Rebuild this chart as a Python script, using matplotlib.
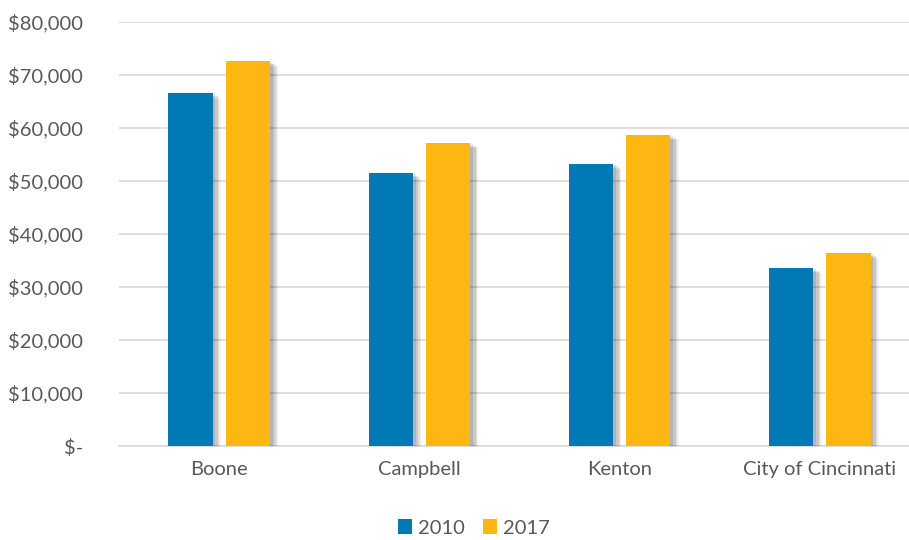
import matplotlib
matplotlib.use('Agg')
import matplotlib.pyplot as plt
import matplotlib.patheffects as pe
from matplotlib.patches import Patch
import numpy as np

categories = ['Boone', 'Campbell', 'Kenton', 'City of Cincinnati']
v2010 = [66600, 51500, 53300, 33600]
v2017 = [72600, 57200, 58700, 36400]
yticks = [0, 10000, 20000, 30000, 40000, 50000, 60000, 70000, 80000]
ytick_labels = ['$-', '$10,000', '$20,000', '$30,000', '$40,000',
                '$50,000', '$60,000', '$70,000', '$80,000']

blue = '#0079B5'
gold = '#FDB713'
text_color = '#595959'

plt.rcParams['font.family'] = ['Lato', 'DejaVu Sans']

fig = plt.figure(figsize=(9.09, 5.4), dpi=100)
ax = fig.add_axes([119 / 909, 1 - 446 / 540, 790 / 909, 424 / 540])

x = np.arange(len(categories))
w = 0.22
off = 0.143

# soft drop shadow, like the office chart style
shadow = [pe.SimplePatchShadow(offset=(6, -4), shadow_rgbFace='#000000', alpha=0.05),
          pe.SimplePatchShadow(offset=(5, -3), shadow_rgbFace='#000000', alpha=0.08),
          pe.SimplePatchShadow(offset=(4, -2), shadow_rgbFace='#000000', alpha=0.10),
          pe.SimplePatchShadow(offset=(2, -1), shadow_rgbFace='#000000', alpha=0.10),
          pe.Normal()]

b1 = ax.bar(x - off, v2010, width=w, color=blue, zorder=3)
b2 = ax.bar(x + off, v2017, width=w, color=gold, zorder=3)
for b in list(b1) + list(b2):
    b.set_path_effects(shadow)

ax.set_xlim(-0.5, 3.445)
ax.set_ylim(0, 80000)
ax.set_yticks(yticks)
ax.set_yticklabels(ytick_labels)
ax.set_xticks(x)
ax.set_xticklabels(categories)
ax.yaxis.grid(True, color='#d9d9d9', linewidth=1.2, zorder=0)
ax.set_axisbelow(True)
for s in ['top', 'right', 'left']:
    ax.spines[s].set_visible(False)
ax.spines['bottom'].set_color('#d9d9d9')
ax.spines['bottom'].set_linewidth(1.2)
ax.tick_params(axis='both', length=0, labelsize=14.5, colors=text_color)
ax.tick_params(axis='y', pad=26)
ax.tick_params(axis='x', pad=11)

handles = [Patch(facecolor=blue), Patch(facecolor=gold)]
fig.legend(handles=handles, labels=['2010', '2017'], loc='center',
           bbox_to_anchor=(474 / 909, 1 - 528 / 540), ncol=2, frameon=False,
           fontsize=14.5, labelcolor=text_color, handlelength=0.7, handleheight=0.7,
           handletextpad=0.3, columnspacing=0.9)

fig.savefig('out.png', dpi=100)
